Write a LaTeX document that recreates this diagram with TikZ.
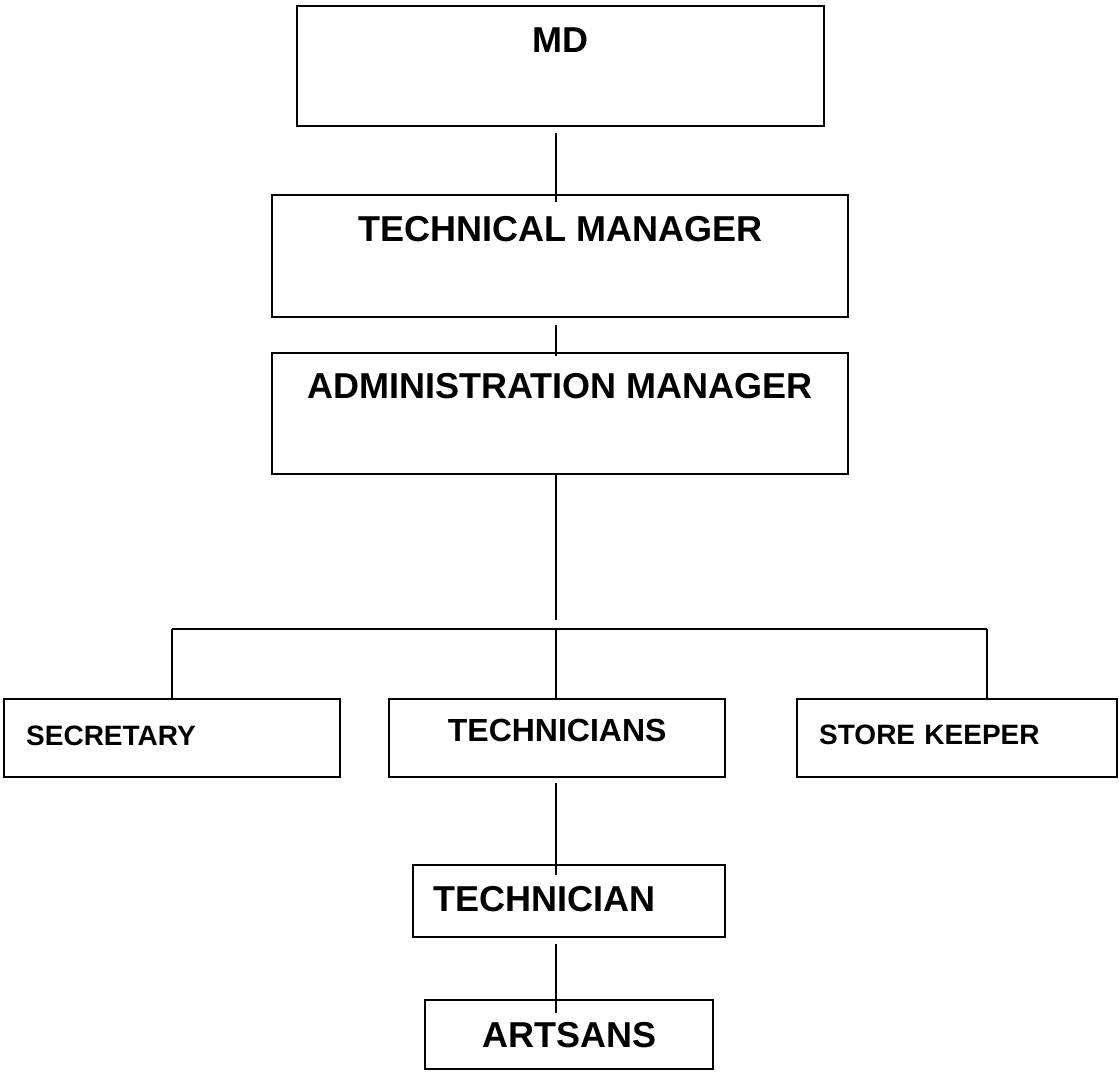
\documentclass[tikz,border=0pt]{standalone}
\usepackage{fontspec}
\setmainfont{Liberation Sans}
\usetikzlibrary{positioning}
\tikzstyle{post}=[draw, line width=1.2pt, inner sep=0pt, anchor=north west]
\tikzstyle{big}=[font=\bfseries\fontsize{18}{22}\selectfont]
\tikzstyle{mid}=[font=\bfseries\fontsize{16}{19}\selectfont]
\tikzstyle{small}=[font=\bfseries\fontsize{14}{17}\selectfont]
\tikzstyle{link}=[line width=0.9pt]

\begin{document}
\begin{tikzpicture}[x=0.5pt,y=-0.5pt]
	\useasboundingbox (0,0) rectangle (1119,1072);
	% top of the chart
	\node[post, big, minimum width=263.5pt, text height=23pt, text depth=37pt] (md) at (296,5) {MD};
	\node[post, big, minimum width=288pt, text height=23pt, text depth=38pt] (tm) at (271,194) {TECHNICAL MANAGER};
	\node[post, big, minimum width=288pt, text height=22.5pt, text depth=38pt] (admin) at (271,352) {ADMINISTRATION MANAGER};
	% staff row
	\node[post, small, text width=146pt, align=left, inner xsep=11pt, text height=23pt, text depth=16pt] (sec) at (3,698) {SECRETARY};
	\node[post, mid, minimum width=168pt, text height=21pt, text depth=18pt] (techs) at (388,698) {TECHNICIANS};
	\node[post, small, text width=138pt, align=left, inner xsep=11pt, text height=22.5pt, text depth=16.5pt] (keeper) at (796,698) {STORE KEEPER};
	\node[post, big, text width=136pt, align=left, inner xsep=10pt, text height=23pt, text depth=13pt] (tech) at (412,864) {TECHNICIAN};
	\node[post, big, minimum width=144pt, text height=23.5pt, text depth=11pt] (arts) at (424,999) {ARTSANS};
	\coordinate (spine) at (556,620);
	\coordinate (busL) at (172,629);
	\coordinate (busR) at (987,629);
	\draw[link, shorten <=3pt, shorten >=-4pt] (md.south -| spine) -- (tm.north -| spine);
	\draw[link, shorten <=3.5pt, shorten >=-2pt] (tm.south -| spine) -- (admin.north -| spine);
	\draw[link] (admin.south -| spine) -- (spine);
	\draw[link] (busL) -- (busR);
	\draw[link, shorten >=-1pt] (busL) -- (busL |- sec.north);
	\draw[link, shorten >=-1pt] (spine |- busL) -- (spine |- techs.north);
	\draw[link, shorten >=-1pt] (busR) -- (busR |- keeper.north);
	\draw[link, shorten <=2.5pt, shorten >=-5.5pt] (spine |- techs.south) -- (spine |- tech.north);
	\draw[link, shorten <=3pt, shorten >=-7pt] (spine |- tech.south) -- (spine |- arts.north);
\end{tikzpicture}
\end{document}
